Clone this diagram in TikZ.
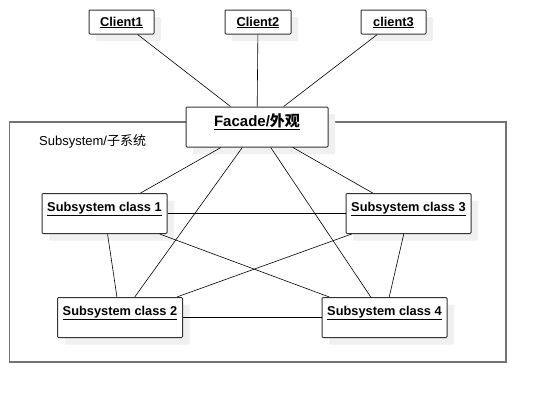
\documentclass[tikz,border=0pt]{standalone}
\usepackage{fontspec}
\setmainfont{Liberation Sans}
\newfontfamily\cjk{Noto Sans CJK SC}
\usetikzlibrary{shadows}
\begin{document}
\begin{tikzpicture}[x=1pt,y=-1pt,
  cls/.style={draw=black!80, line width=1pt, fill=white, rounded corners=1pt,
    inner xsep=0pt, inner ysep=0pt, align=center,
    drop shadow={shadow xshift=7pt, shadow yshift=-7pt, fill=black!6, opacity=1, draw=none},
    font=\fontsize{12.8}{15}\selectfont\bfseries},
  client/.style={cls, minimum width=65pt, minimum height=24pt, text height=16pt, text depth=8pt},
  subcls/.style={cls, minimum width=125pt, minimum height=40pt, text height=18pt, text depth=22pt},
  facade/.style={cls, minimum width=142pt, minimum height=40pt, text height=19pt, text depth=21pt,
    font=\fontsize{15}{18}\selectfont\bfseries},
  conn/.style={draw=black, line width=0.6pt},
  frame/.style={draw=black!55, line width=1.2pt, minimum width=496.5pt, minimum height=240pt, inner sep=0pt}]
\useasboundingbox (0,0) rectangle (546,402);
\node[frame] (sys) at (257.75,242) {};
\node[anchor=base west, inner sep=0pt, font=\fontsize{13}{15}\selectfont] (lbl) at (39,145) {Subsystem/{\cjk 子系统}};
\node[client] (c1) at (121.5,22) {\underline{Client1}};
\node[client, minimum width=66pt] (c2) at (258,22) {\underline{Client2}};
\node[client] (c3) at (393.5,22) {\underline{client3}};
\node[facade] (fac) at (257,127) {\underline{Facade/{\cjk 外观}}};
\node[subcls] (s1) at (104.5,213.5) {\underline{Subsystem class 1}};
\node[subcls] (s3) at (408.5,213.5) {\underline{Subsystem class 3}};
\node[subcls] (s2) at (120,317.5) {\underline{Subsystem class 2}};
\node[subcls] (s4) at (384.5,317.5) {\underline{Subsystem class 4}};
\draw[conn] (c1) -- (fac);
\draw[conn] (c2) -- (fac);
\draw[conn] (c3) -- (fac);
\draw[conn] (fac) -- (s1);
\draw[conn] (fac) -- (s2);
\draw[conn] (fac) -- (s3);
\draw[conn] (fac) -- (s4);
\draw[conn] (s1) -- (s3);
\draw[conn] (s1) -- (s2);
\draw[conn] (s1) -- (s4);
\draw[conn] (s3) -- (s2);
\draw[conn] (s3) -- (s4);
\draw[conn] (s2) -- (s4);
\end{tikzpicture}
\end{document}
